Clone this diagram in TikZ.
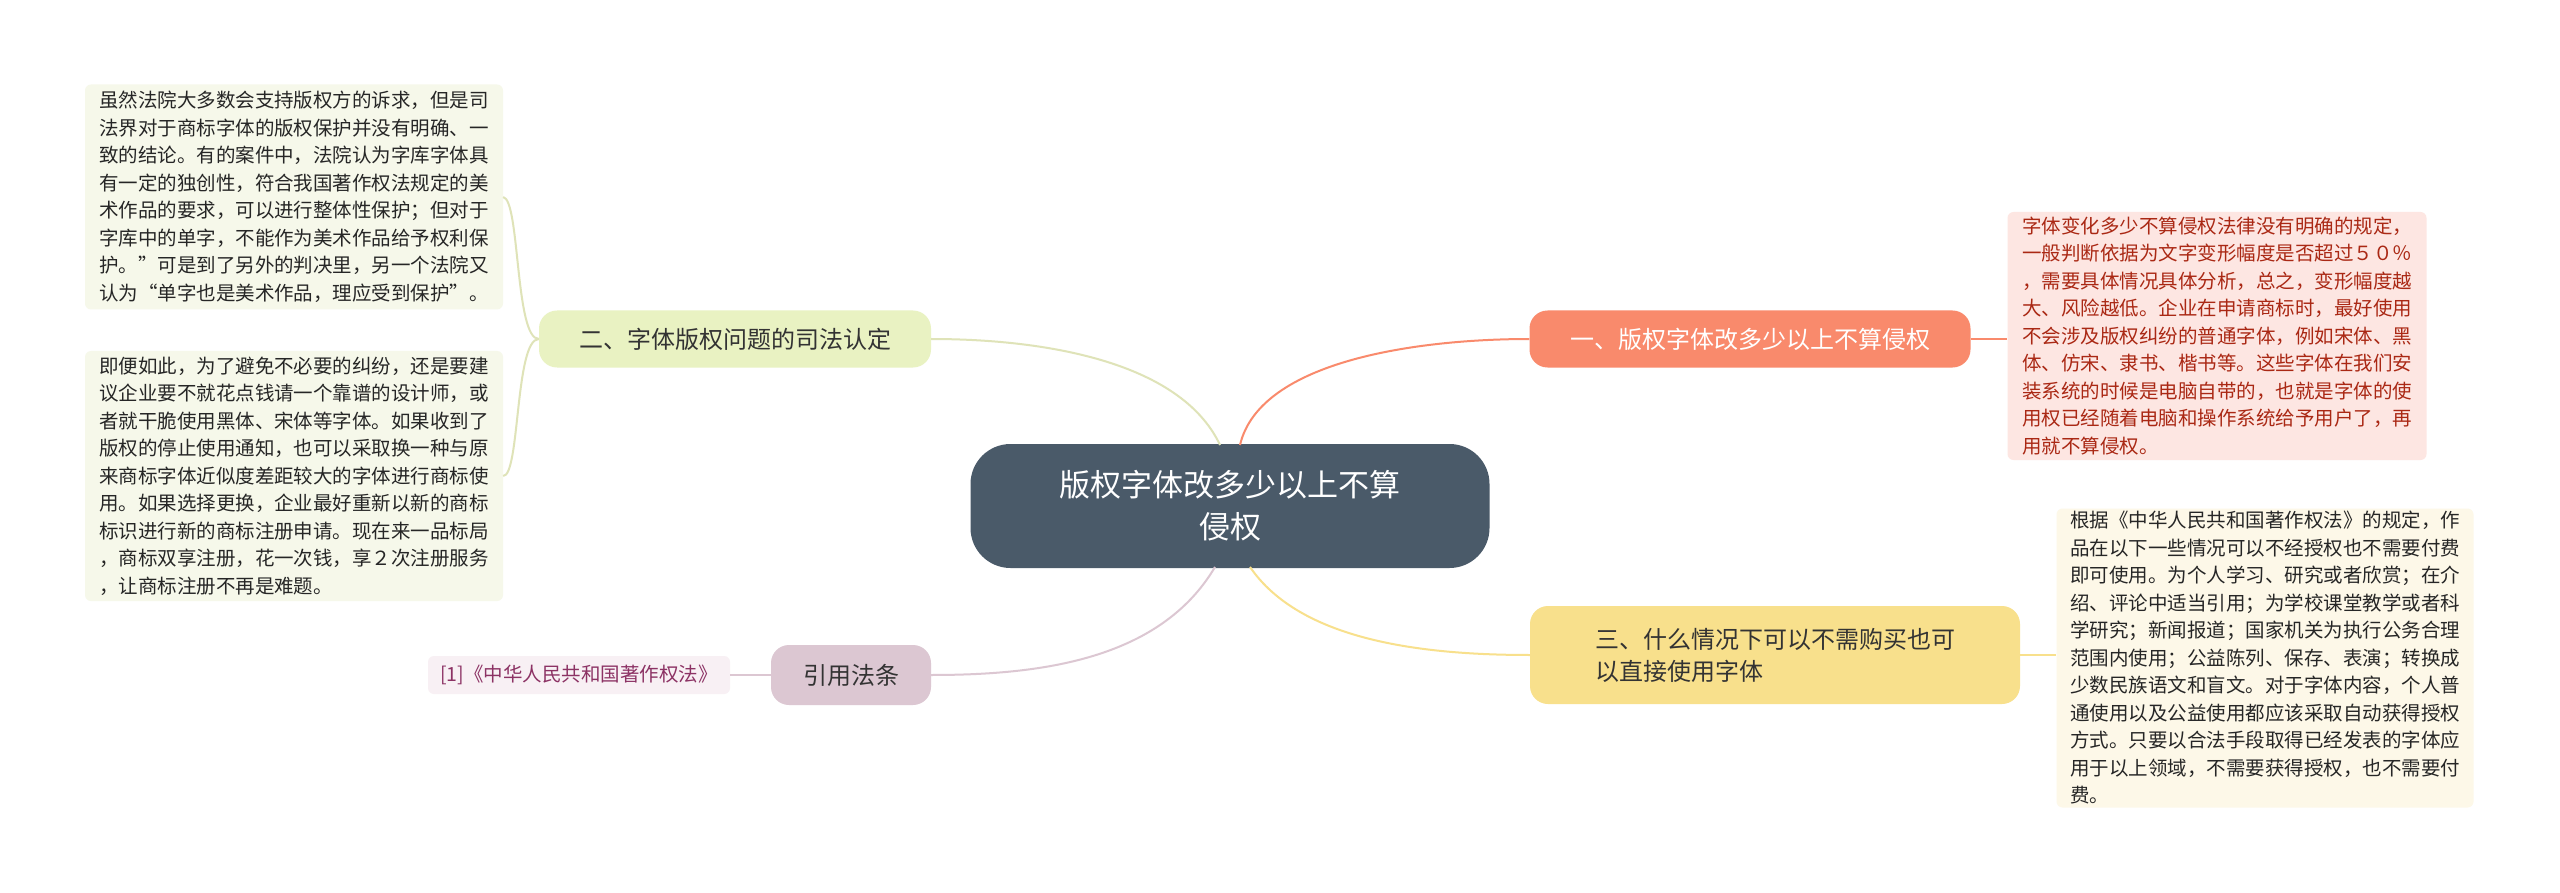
\documentclass[tikz,border=0pt]{standalone}
\usepackage{fontspec}
\setmainfont{Noto Sans CJK SC}
\begin{document}
\begin{tikzpicture}[x=1pt,y=-1pt]
  \tikzset{ leaf/.style={rounded corners=6pt,inner sep=0pt,align=left,font=\fontsize{19.5}{27.5}\selectfont},
    branch/.style={rounded corners=18pt,inner sep=0pt,font=\fontsize{24}{32}\selectfont,text=black!80},
    link/.style={line width=2pt},
  }
  \useasboundingbox[fill=white] (0,0) rectangle (2560,893);
  \definecolor{hub}{HTML}{4A5A69}
  \definecolor{salmon}{HTML}{F98A6C}
  \definecolor{sun}{HTML}{F8E08C}
  \definecolor{sage}{HTML}{E9F2C2}
  \definecolor{mauve}{HTML}{DCC7D2}

  \node[rounded corners=40pt,fill=hub,minimum width=519pt,minimum height=124pt,align=center,text=white,
    font=\fontsize{31}{42}\selectfont] (C) at (1230,506) {版权字体改多少以上不算\\侵权};

  \node[branch,fill=salmon,minimum width=441pt,minimum height=57pt,text=white] (B1) at (1750,339) {一、版权字体改多少以上不算侵权};
  \node[branch,fill=sun,minimum width=490pt,minimum height=98pt,align=left] (B3) at (1775,655) {三、什么情况下可以不需购买也可\\以直接使用字体};
  \node[branch,fill=sage,minimum width=392pt,minimum height=57pt] (B2) at (735,339) {二、字体版权问题的司法认定};
  \node[branch,fill=mauve,minimum width=160pt,minimum height=60pt] (B4) at (851,675) {引用法条};

  \node[leaf,fill={rgb,255:red,253;green,230;blue,226},text={rgb,255:red,170;green,40;blue,20},
    minimum width=419pt,minimum height=248pt] (L1) at (2217,336) {字体变化多少不算侵权法律没有明确的规定，\\一般判断依据为文字变形幅度是否超过５０％\\，需要具体情况具体分析，总之，变形幅度越\\大、风险越低。企业在申请商标时，最好使用\\不会涉及版权纠纷的普通字体，例如宋体、黑\\体、仿宋、隶书、楷书等。这些字体在我们安\\装系统的时候是电脑自带的，也就是字体的使\\用权已经随着电脑和操作系统给予用户了，再\\用就不算侵权。};
  \node[leaf,fill={rgb,255:red,253;green,248;blue,232},text=black!85,
    minimum width=417pt,minimum height=299pt] (L3) at (2265,658) {根据《中华人民共和国著作权法》的规定，作\\品在以下一些情况可以不经授权也不需要付费\\即可使用。为个人学习、研究或者欣赏；在介\\绍、评论中适当引用；为学校课堂教学或者科\\学研究；新闻报道；国家机关为执行公务合理\\范围内使用；公益陈列、保存、表演；转换成\\少数民族语文和盲文。对于字体内容，个人普\\通使用以及公益使用都应该采取自动获得授权\\方式。只要以合法手段取得已经发表的字体应\\用于以上领域，不需要获得授权，也不需要付\\费。};
  \node[leaf,fill={rgb,255:red,246;green,248;blue,234},text=black!85,
    minimum width=418pt,minimum height=225pt] (L2a) at (294,197) {虽然法院大多数会支持版权方的诉求，但是司\\法界对于商标字体的版权保护并没有明确、一\\致的结论。有的案件中，法院认为字库字体具\\有一定的独创性，符合我国著作权法规定的美\\术作品的要求，可以进行整体性保护；但对于\\字库中的单字，不能作为美术作品给予权利保\\护。”可是到了另外的判决里，另一个法院又\\认为“单字也是美术作品，理应受到保护”。};
  \node[leaf,fill={rgb,255:red,246;green,248;blue,234},text=black!85,
    minimum width=418pt,minimum height=250pt] (L2b) at (294,476) {即便如此，为了避免不必要的纠纷，还是要建\\议企业要不就花点钱请一个靠谱的设计师，或\\者就干脆使用黑体、宋体等字体。如果收到了\\版权的停止使用通知，也可以采取换一种与原\\来商标字体近似度差距较大的字体进行商标使\\用。如果选择更换，企业最好重新以新的商标\\标识进行新的商标注册申请。现在来一品标局\\，商标双享注册，花一次钱，享２次注册服务\\，让商标注册不再是难题。};
  \node[leaf,fill={rgb,255:red,248;green,240;blue,244},text={rgb,255:red,140;green,50;blue,100},
    minimum width=302pt,minimum height=38pt,align=center] (L4) at (579,675) {[1]《中华人民共和国著作权法》};

  % hub to branches
  \draw[link,salmon] (1240,445) .. controls (1260,360) and (1420,339) .. (B1.west);
  \draw[link,sun] (1250,567) .. controls (1300,640) and (1420,655) .. (B3.west);
  \draw[link,sage!70!olive!60] (1220,445) .. controls (1180,360) and (1040,339) .. (B2.east);
  \draw[link,mauve] (1215,567) .. controls (1160,660) and (1040,675) .. (B4.east);

  % branches to leaves
  \draw[link,salmon] (B1.east) -- (L1.west |- B1.east);
  \draw[link,sun] (B3.east) -- (L3.west |- B3.east);
  \draw[link,sage!70!olive!60] (B2.west) .. controls (515,339) and (520,200) .. (L2a.east);
  \draw[link,sage!70!olive!60] (B2.west) .. controls (515,339) and (520,476) .. (L2b.east);
  \draw[link,mauve] (B4.west) -- (L4.east);
\end{tikzpicture}
\end{document}
